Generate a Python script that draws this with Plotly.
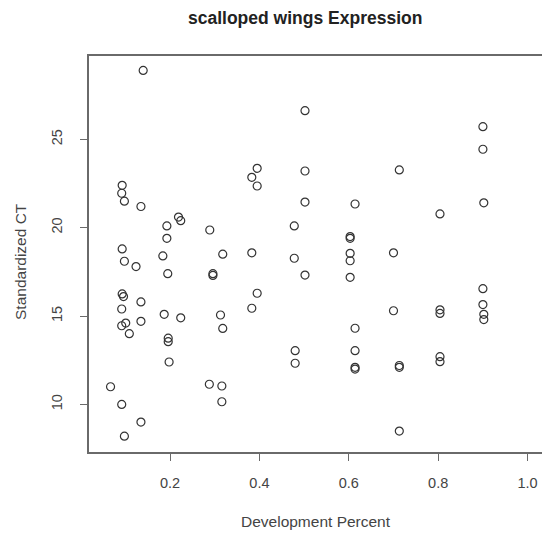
import plotly.graph_objects as go

# Development stage (fraction of development) and standardized CT for each sample
dev_percent = [
    0.067, 0.093, 0.092, 0.098, 0.135, 0.093, 0.098, 0.124, 0.093, 0.096,
    0.135, 0.092, 0.135, 0.092, 0.101, 0.109, 0.092, 0.098, 0.135, 0.140,
    0.193, 0.219, 0.224, 0.193, 0.184, 0.195, 0.187, 0.224, 0.196, 0.196, 0.198,
    0.289, 0.318, 0.296, 0.296, 0.313, 0.318, 0.288, 0.316, 0.316,
    0.395, 0.383, 0.395, 0.383, 0.395, 0.383,
    0.478, 0.478, 0.480, 0.480,
    0.502, 0.502, 0.502, 0.502,
    0.603, 0.603, 0.603, 0.603, 0.603,
    0.614, 0.614, 0.614, 0.614, 0.614,
    0.700, 0.700,
    0.713, 0.713, 0.713, 0.713,
    0.804, 0.804, 0.804, 0.804, 0.804,
    0.900, 0.900, 0.902, 0.900, 0.900, 0.902, 0.902,
]
standardized_ct = [
    11.0, 22.4, 21.95, 21.5, 21.2, 18.8, 18.1, 17.8, 16.25, 16.1,
    15.8, 15.4, 14.7, 14.45, 14.6, 14.0, 10.0, 8.2, 9.0, 28.9,
    20.1, 20.6, 20.4, 19.4, 18.4, 17.4, 15.1, 14.9, 13.75, 13.55, 12.4,
    19.87, 18.5, 17.4, 17.3, 15.06, 14.3, 11.14, 11.04, 10.15,
    23.36, 22.85, 22.36, 18.58, 16.29, 15.44,
    20.1, 18.27, 13.04, 12.33,
    26.62, 23.21, 21.45, 17.32,
    19.5, 19.4, 18.55, 18.13, 17.19,
    21.34, 14.31, 13.04, 12.1, 12.0,
    18.58, 15.3,
    23.27, 12.2, 12.1, 8.49,
    20.78, 15.35, 15.15, 12.7, 12.42,
    25.72, 24.44, 21.41, 16.55, 15.65, 15.1, 14.8,
]

x_ticks = [0.2, 0.4, 0.6, 0.8, 1.0]
x_tick_labels = ["0.2", "0.4", "0.6", "0.8", "1.0"]
y_ticks = [10, 15, 20, 25]
y_tick_labels = ["10", "15", "20", "25"]

W, H = 542, 534
L, R, T, B = 89, 0, 56, 82
font_family = "Liberation Sans, Arial, sans-serif"
axis_color = "#6a6a6a"
text_color = "#444444"

fig = go.Figure()
fig.add_trace(go.Scatter(
    x=dev_percent,
    y=standardized_ct,
    mode="markers",
    marker=dict(symbol="circle-open", size=8, color="#333333",
                line=dict(width=1.2, color="#333333")),
    hoverinfo="x+y",
))

fig.update_layout(
    width=W, height=H,
    margin=dict(l=L, r=R, t=T, b=B, pad=0),
    paper_bgcolor="white", plot_bgcolor="white",
    showlegend=False,
    font=dict(family=font_family, color=text_color, size=14),
    xaxis=dict(
        range=[0.0188, 1.0322],
        tickvals=x_ticks, ticktext=x_tick_labels,
        ticks="outside", ticklen=7, tickwidth=1.2, tickcolor=axis_color,
        showgrid=False, zeroline=False,
        showline=True, mirror=True, linecolor=axis_color, linewidth=1.8,
        tickfont=dict(size=14.5, color=text_color),
        ticklabelstandoff=10,
    ),
    yaxis=dict(
        range=[7.306, 29.717],
        tickvals=y_ticks, ticktext=y_tick_labels,
        ticks="outside", ticklen=7, tickwidth=1.2, tickcolor=axis_color,
        showgrid=False, zeroline=False,
        showline=True, linecolor=axis_color, linewidth=1.8,
        tickangle=-90,
        tickfont=dict(size=14.5, color=text_color),
        ticklabelstandoff=12,
    ),
    annotations=[
        dict(text="<b>scalloped wings Expression</b>", xref="paper", yref="paper",
             x=(305 - L) / (W - L - R), y=1 + (T - 18) / (H - T - B),
             xanchor="center", yanchor="middle", showarrow=False,
             font=dict(size=17.5, color="#222222", family=font_family)),
        dict(text="Development Percent", xref="paper", yref="paper",
             x=(316 - L) / (W - L - R), y=-(521 - (H - B)) / (H - T - B),
             xanchor="center", yanchor="middle", showarrow=False,
             font=dict(size=15.5, color=text_color, family=font_family)),
        dict(text="Standardized CT", xref="paper", yref="paper",
             x=-(L - 20) / (W - L - R), y=(H - B - 262) / (H - T - B),
             xanchor="center", yanchor="middle", showarrow=False, textangle=-90,
             font=dict(size=15.5, color=text_color, family=font_family)),
    ],
)

fig.write_html("out.html")
